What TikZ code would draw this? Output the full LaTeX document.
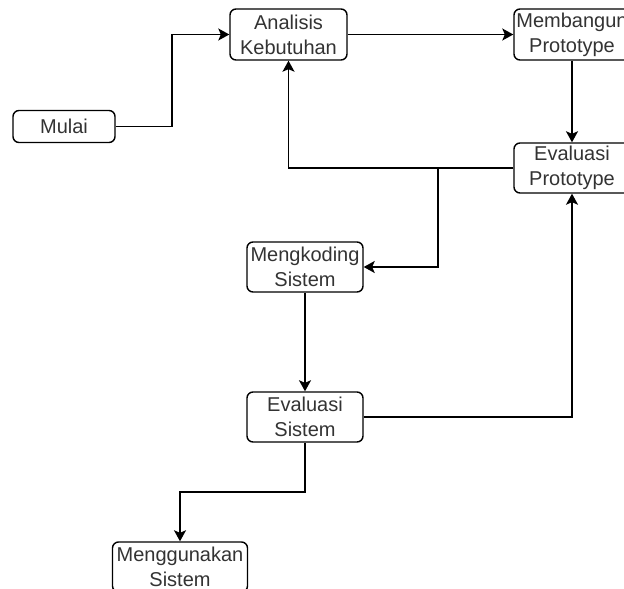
\documentclass[tikz,border=0pt]{standalone}
\usepackage{fontspec}
\setmainfont{Liberation Sans}
\usetikzlibrary{arrows.meta}
\tikzset{
  box/.style={draw=black, line width=1.4pt, rounded corners=6pt, fill=white,
    inner sep=0pt, align=center, text=black!80,
    font=\fontsize{20pt}{25pt}\selectfont},
  conn/.style={line width=1.4pt, draw=black,
    -{Stealth[length=11pt,width=12pt,inset=2.5pt]}}
}
\begin{document}
\begin{tikzpicture}[x=1pt,y=-1pt]
\useasboundingbox (0,0) rectangle (624,589);
\clip (0,0) rectangle (624,589);
\node[box, minimum width=102pt, minimum height=32pt] (mulai) at (64,126.5) {Mulai};
\node[box, minimum width=117pt, minimum height=51pt] (anal) at (288.5,34.5) {Analisis\\Kebutuhan};
\node[box, minimum width=116pt, minimum height=51pt] (bang) at (572,34.5) {Membangun\\Prototype};
\node[box, minimum width=116pt, minimum height=50pt] (evp) at (572,168) {Evaluasi\\Prototype};
\node[box, minimum width=116pt, minimum height=50pt] (kode) at (305,267) {Mengkoding\\Sistem};
\node[box, minimum width=116pt, minimum height=50pt] (evs) at (305,417) {Evaluasi\\Sistem};
\node[box, minimum width=135pt, minimum height=50pt] (guna) at (180,567) {Menggunakan\\Sistem};
\coordinate (j1) at (172,126.5);
\coordinate (j2) at (438,168);
\coordinate (j3) at (305,492);
\draw[conn] (mulai.east) -- (j1) |- (anal.west);
\draw[conn] (anal.east) -- (bang.west);
\draw[conn] (bang.south) -- (evp.north);
\draw[conn] (evp.west) -| (anal.south);
\draw[conn] (evp.west) -- (j2) |- (kode.east);
\draw[conn] (kode.south) -- (evs.north);
\draw[conn] (evs.east) -| (evp.south);
\draw[conn] (evs.south) -- (j3) -| (guna.north);
\end{tikzpicture}
\end{document}
